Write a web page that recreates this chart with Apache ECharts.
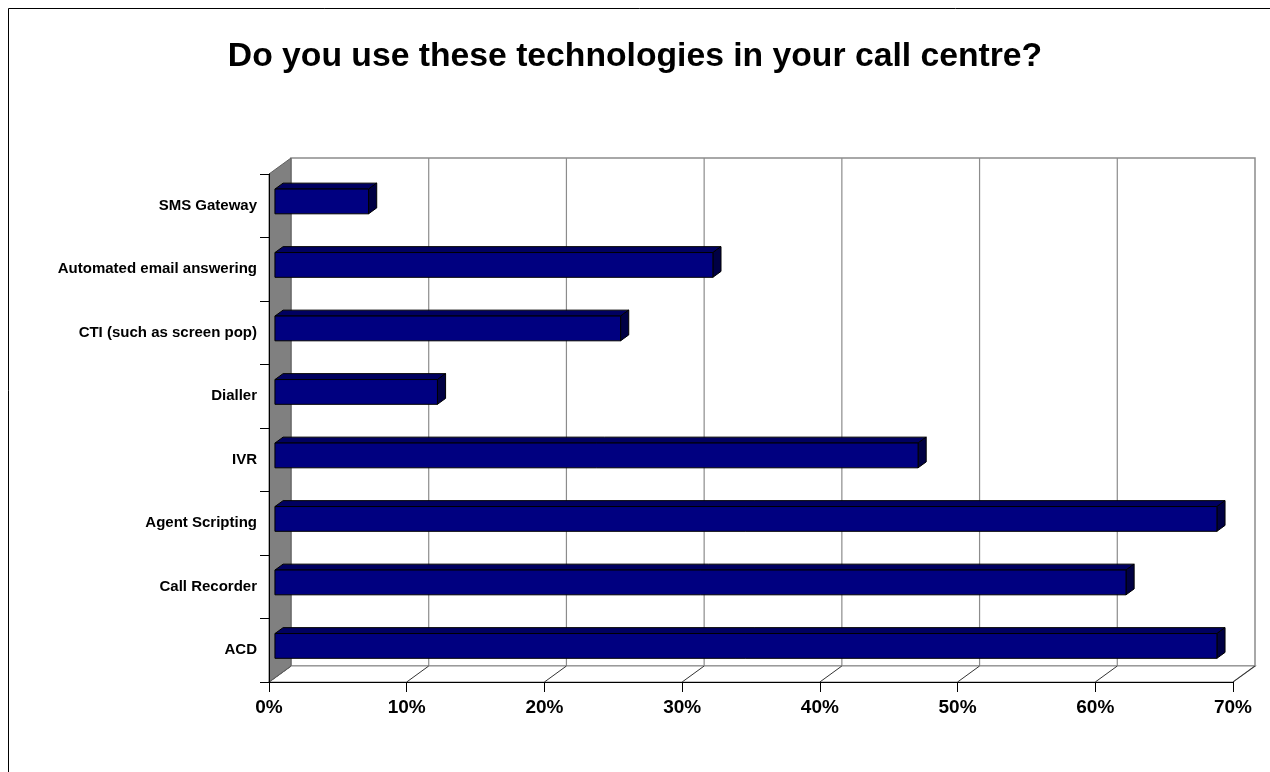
<!DOCTYPE html>
<html>
<head>
<meta charset="utf-8">
<title>Call centre technologies</title>
<script src="https://cdn.jsdelivr.net/npm/echarts@6/dist/echarts.min.js"></script>
<style>
  html, body { margin: 0; padding: 0; background: #fff; }
  #chart { width: 1270px; height: 772px; }
</style>
</head>
<body>
<div id="chart"></div>
<script>
// Categories listed bottom-up, the way the bar axis stacks them
const categories = [
  'ACD',
  'Call Recorder',
  'Agent Scripting',
  'IVR',
  'Dialler',
  'CTI (such as screen pop)',
  'Automated email answering',
  'SMS Gateway'
];
// Share of call centres using each technology (%)
const usage = [68.4, 61.8, 68.4, 46.7, 11.8, 25.1, 31.8, 6.8];
// Value-axis ticks (%)
const tickValues = [0, 10, 20, 30, 40, 50, 60, 70];

const FONT = '"Liberation Sans", Arial, Helvetica, sans-serif';

// Pseudo-3D depth offset of the back plane relative to the front plane
const DX = 22, DY = -16;
// Depth slice occupied by the bars (fraction of full depth)
const F0 = 0.27, F1 = 0.64;
// Bar thickness as a share of the category band
const BAR_H = 0.39;

const chart = echarts.init(document.getElementById('chart'), null, { renderer: 'canvas' });

// Walls, floor and back-wall gridlines
function renderFrame(params, api) {
  const cs = params.coordSys;
  const x0 = cs.x, x1 = cs.x + cs.width;
  const yTop = cs.y, yBot = cs.y + cs.height;
  const children = [];
  // back wall
  children.push({
    type: 'rect',
    shape: { x: x0 + DX, y: yTop + DY, width: cs.width, height: cs.height },
    style: { fill: '#ffffff', stroke: '#8c8c8c', lineWidth: 1.5 }
  });
  // floor
  children.push({
    type: 'polygon',
    shape: { points: [[x0, yBot], [x1, yBot], [x1 + DX, yBot + DY], [x0 + DX, yBot + DY]] },
    style: { fill: '#ffffff', stroke: '#8c8c8c', lineWidth: 1.2 }
  });
  // gridlines on the back wall, continued across the floor
  tickValues.forEach(function (v) {
    const x = api.coord([v, 0])[0];
    if (v > 0 && v < tickValues[tickValues.length - 1]) {
      children.push({
        type: 'line',
        shape: { x1: x + DX, y1: yTop + DY, x2: x + DX, y2: yBot + DY },
        style: { stroke: '#8c8c8c', lineWidth: 1.2 }
      });
    }
    children.push({
      type: 'line',
      shape: { x1: x + DX, y1: yBot + DY, x2: x, y2: yBot },
      style: { stroke: '#333333', lineWidth: 1 }
    });
  });
  // left side wall
  children.push({
    type: 'polygon',
    shape: { points: [[x0, yTop], [x0 + DX, yTop + DY], [x0 + DX, yBot + DY], [x0, yBot]] },
    style: { fill: '#808080', stroke: '#606060', lineWidth: 1 }
  });
  return { type: 'group', children: children };
}

// One pseudo-3D bar: front face, top face and end face
function renderBar(params, api) {
  const v = api.value(0);
  const cat = api.value(1);
  const p0 = api.coord([0, cat]);
  const p1 = api.coord([v, cat]);
  const band = api.size([0, 1])[1];
  const h = band * BAR_H;
  const ox = DX * F0, oy = DY * F0;
  const dx = DX * (F1 - F0), dy = DY * (F1 - F0);
  const xl = p0[0] + ox, xr = p1[0] + ox;
  const yt = p0[1] + oy - h / 2, yb = yt + h;
  const edge = { stroke: '#000000', lineWidth: 1, lineJoin: 'round' };
  return {
    type: 'group',
    children: [
      {
        type: 'polygon',
        shape: { points: [[xl, yt], [xr, yt], [xr + dx, yt + dy], [xl + dx, yt + dy]] },
        style: Object.assign({ fill: '#000060' }, edge)
      },
      {
        type: 'polygon',
        shape: { points: [[xr, yt], [xr + dx, yt + dy], [xr + dx, yb + dy], [xr, yb]] },
        style: Object.assign({ fill: '#000044' }, edge)
      },
      {
        type: 'rect',
        shape: { x: xl, y: yt, width: xr - xl, height: h },
        style: Object.assign({ fill: '#000080' }, edge)
      }
    ]
  };
}

const option = {
  backgroundColor: '#ffffff',
  animation: false,
  title: {
    text: 'Do you use these technologies in your call centre?',
    left: 'center',
    top: 35,
    textStyle: { fontFamily: FONT, fontSize: 33.7, fontWeight: 'bold', color: '#000000' }
  },
  graphic: [{
    type: 'rect',
    silent: true,
    shape: { x: 8.5, y: 8.5, width: 1400, height: 900 },
    style: { fill: 'none', stroke: '#000000', lineWidth: 1 },
    z: 100
  }],
  grid: { left: 269, top: 174, width: 964, height: 508, containLabel: false },
  xAxis: {
    type: 'value',
    min: 0,
    max: 70,
    interval: 10,
    z: 10,
    axisLine: { show: true, lineStyle: { color: '#000000', width: 1 } },
    axisTick: { show: true, length: 10, lineStyle: { color: '#000000' } },
    splitLine: { show: false },
    axisLabel: {
      formatter: '{value}%',
      margin: 16,
      fontFamily: FONT,
      fontSize: 19,
      fontWeight: 'bold',
      color: '#000000'
    }
  },
  yAxis: {
    type: 'category',
    data: categories,
    z: 10,
    axisLine: { show: true, lineStyle: { color: '#000000', width: 1 } },
    axisTick: { show: true, length: 9, lineStyle: { color: '#000000' } },
    splitLine: { show: false },
    axisLabel: {
      margin: 12,
      fontFamily: FONT,
      fontSize: 15,
      fontWeight: 'bold',
      color: '#000000'
    }
  },
  series: [
    {
      type: 'custom',
      name: 'frame',
      silent: true,
      z: 1,
      renderItem: renderFrame,
      data: [[0, 0]],
      encode: { x: 0, y: 1 }
    },
    {
      type: 'custom',
      name: 'Usage',
      z: 3,
      renderItem: renderBar,
      data: usage.map(function (v, i) { return [v, i]; }),
      encode: { x: 0, y: 1 }
    }
  ]
};

chart.setOption(option);
</script>
</body>
</html>
